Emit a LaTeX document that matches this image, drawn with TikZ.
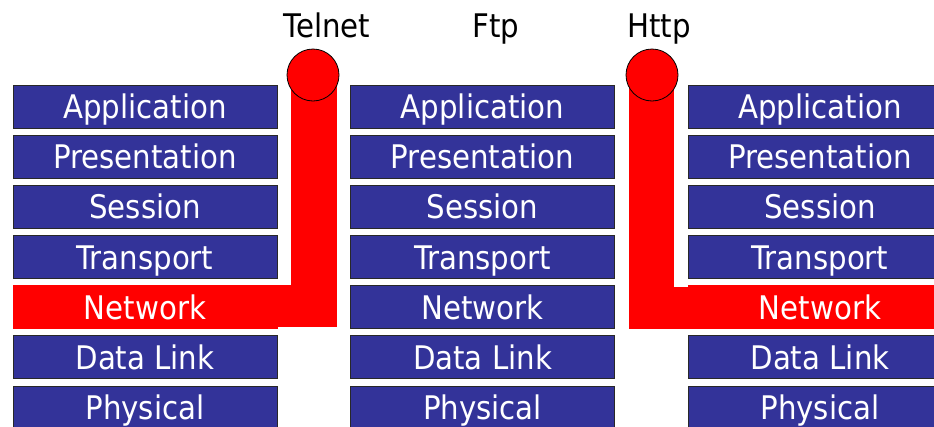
\documentclass[tikz,border=0pt]{standalone}
\usepackage{fontspec}
\setmainfont{DejaVu Sans Condensed}
\definecolor{layerblue}{RGB}{51,51,153}
\definecolor{edgegray}{RGB}{40,40,40}
\begin{document}
\begin{tikzpicture}[x=1pt,y=-1pt,
  layer/.style={draw=edgegray, line width=0.8pt, fill=layerblue, text=white,
    minimum width=264pt, minimum height=43pt, inner sep=0pt,
    text height=24pt, text depth=0pt, font=\fontsize{32.5}{36}\selectfont},
  hot/.style={fill=red, draw=red},
  pipehead/.style={circle, fill=red, draw=black, line width=0.8pt, minimum size=52pt, inner sep=0pt},
  proto/.style={font=\fontsize{32.5}{36}\selectfont, text=black, inner sep=0pt, anchor=base}
]
\useasboundingbox (0,0) rectangle (934,426);
\clip (0,0) rectangle (934,426);
% stacks
\foreach \col/\cx in {L/145, M/482.5, R/820} {
  \foreach \i/\name in {1/Application, 2/Presentation, 3/Session, 4/Transport, 6/Data Link, 7/Physical} {
    \node[layer] (\col\i) at (\cx, {106.5+50.17*(\i-1)}) {\name};
  }
}
\node[layer] (M5) at (482.5, {106.5+50.17*4}) {Network};
% Telnet pipe (left)
\node[layer, hot] (L5) at (145, {106.5+50.17*4}) {Network};
\coordinate (telbar) at (337,327);
\fill[red] (L5.north east) rectangle (telbar);
\fill[red] (291,75) rectangle (telbar);
\node[pipehead] (telnet) at (313,75) {};
% Http pipe (right)
\node[layer, hot] (R5) at (820, {106.5+50.17*4}) {Network};
\coordinate (httpbar) at (629,75);
\fill[red] (httpbar) rectangle (674,327);
\fill[red] (629,286.5) rectangle (R5.south west);
\node[pipehead] (http) at (652,75) {};
% protocol labels
\node[proto] (tl) at (327,37) {Telnet};
\node[proto] (fl) at (496,37) {Ftp};
\node[proto] (hl) at (659,37) {Http};
\end{tikzpicture}
\end{document}
